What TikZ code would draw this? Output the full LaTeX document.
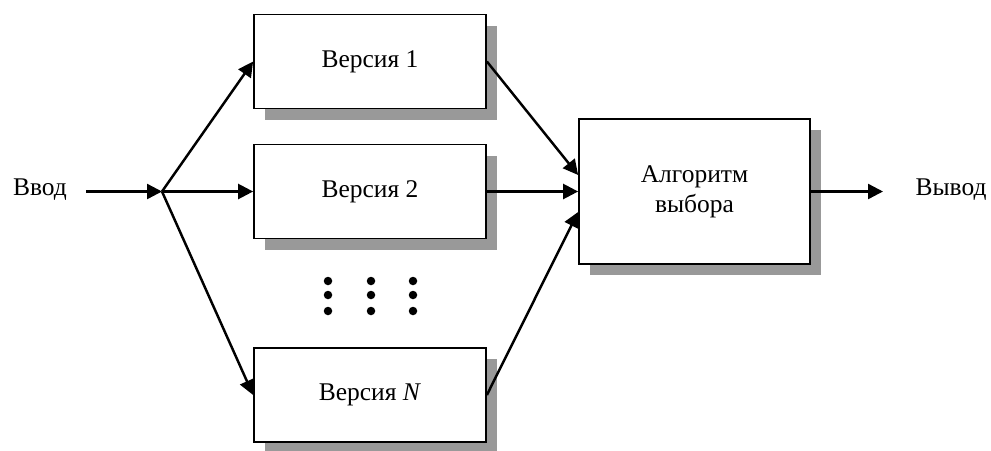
\documentclass[tikz,border=0pt]{standalone}
\usepackage{fontspec}
\setmainfont{Liberation Serif}
\usetikzlibrary{arrows.meta,positioning,shadows}
\tikzset{
  label_txt/.style={inner sep=0pt, font=\fontsize{14.5}{17}\selectfont},
  version/.style ={rectangle, minimum width=4.64cm, minimum height=1.88cm, line width=1pt,
    draw=black, fill=white, font=\fontsize{14.5}{17}\selectfont,
    drop shadow={shadow xshift=0.22cm, shadow yshift=-0.22cm, opacity=1, fill=black!40}},
  chooser/.style ={version, minimum width=4.62cm, minimum height=2.9cm, align=center}}

\begin{document}
\begin{tikzpicture}

\tikzset{
toarr/.style={-{Triangle[length=0.3cm, width=0.3cm]}, line width=1.4pt}
}

\useasboundingbox (0,0) rectangle (19.82,-9);

%INPUT
\node[label_txt](vvod) at (0.8,-3.8) {Ввод};
\coordinate (vvodstart) at (1.72,-3.83);
\coordinate (split) at (3.24,-3.83);

%VERSIONS
\node[version](ver1) at (7.4,-1.23) {Версия 1};
\node[version](ver2) at (7.4,-3.83) {Версия 2};
\node[version](verN) at (7.4,-7.9) {Версия \textit{N}};

%DOTS
\foreach \x in {6.56,7.42,8.26}
  \foreach \y in {-5.62,-5.9,-6.22}
    \fill (\x,\y) circle (0.085cm);

%CHOICE
\node[chooser](alg) at (13.89,-3.83) {Алгоритм\\выбора};

%OUTPUT
\coordinate (vyvodend) at (17.66,-3.83);
\node[label_txt](vyvod) at (19.02,-3.8) {Вывод};

\draw[toarr] (vvodstart) -- (split);
\draw[toarr] (split) -- (ver1.west);
\draw[toarr] (split) -- (ver2.west);
\draw[toarr] (split) -- (verN.west);

\draw[toarr] (ver1.east) -- ([yshift=0.33cm]alg.west);
\draw[toarr] (ver2.east) -- (alg.west);
\draw[toarr] (verN.east) -- ([yshift=-0.41cm]alg.west);

\draw[toarr] (alg.east) -- (vyvodend);
\end{tikzpicture}
\end{document}
